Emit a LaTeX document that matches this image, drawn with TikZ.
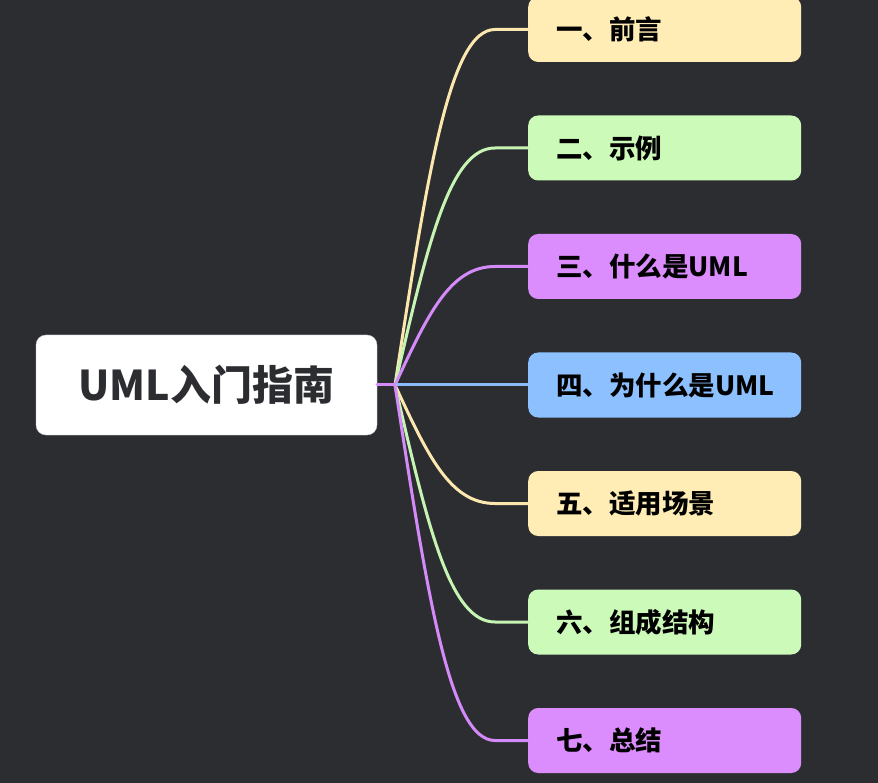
\documentclass[tikz,border=0pt]{standalone}
\usepackage{fontspec}
\newfontfamily\cjk{Noto Sans CJK SC}
\usetikzlibrary{calc}

\definecolor{bgdark}{HTML}{2C2D31}
\definecolor{rootink}{HTML}{2C2D31}
\definecolor{ylw}{HTML}{FFEDB5}
\definecolor{grn}{HTML}{CCFAB9}
\definecolor{prp}{HTML}{DC8DFD}
\definecolor{blu}{HTML}{8DC0FF}
\definecolor{ylwline}{HTML}{FCE8AE}
\definecolor{grnline}{HTML}{C6F4B2}
\definecolor{prpline}{HTML}{D48AF8}
\definecolor{bluline}{HTML}{8BBCFA}

\begin{document}
\begin{tikzpicture}[x=1pt, y=-1pt,
  rootbox/.style={draw=gray!40, fill=white, rounded corners=10pt,
    minimum width=341pt, minimum height=100pt, inner sep=0pt,
    text=rootink, font=\cjk\bfseries\fontsize{41}{41}\selectfont},
  topic/.style={rounded corners=10pt, anchor=west, minimum height=65pt,
    inner xsep=28pt, text width=217pt, align=left,
    font=\cjk\bfseries\fontsize{26.5}{26.5}\selectfont},
  link/.style={line width=3pt, line cap=round}]

  \fill[bgdark] (0,0) rectangle (878,783);
  \useasboundingbox (0,0) rectangle (878,783);

  \node[rootbox] (root) at (206.5,385) {UML入门指南};
  \coordinate (J) at (395,385);

  \node[topic, fill=ylw] (t1) at (528,29.5)  {一、前言};
  \node[topic, fill=grn] (t2) at (528,148)   {二、示例};
  \node[topic, fill=prp] (t3) at (528,266.5) {三、什么是UML};
  \node[topic, fill=blu] (t4) at (528,385)   {四、为什么是UML};
  \node[topic, fill=ylw] (t5) at (528,503.5) {五、适用场景};
  \node[topic, fill=grn] (t6) at (528,622)   {六、组成结构};
  \node[topic, fill=prp] (t7) at (528,740.5) {七、总结};

  \coordinate (e1) at (495,29.5);
  \coordinate (e2) at (495,148);
  \coordinate (e3) at (495,266.5);
  \coordinate (e5) at (495,503.5);
  \coordinate (e6) at (495,622);
  \coordinate (e7) at (495,740.5);

  % branches
  \draw[link, ylwline] (J) .. controls +(33,-215) and +(-45,0) .. (e1) -- (t1.west);
  \draw[link, grnline] (J) .. controls +(33,-143) and +(-45,0) .. (e2) -- (t2.west);
  \draw[link, prpline] (J) .. controls +(33,-71) and +(-45,0) .. (e3) -- (t3.west);
  \draw[link, bluline] (J) -- (t4.west);
  \draw[link, ylwline] (J) .. controls +(33,71) and +(-45,0) .. (e5) -- (t5.west);
  \draw[link, grnline] (J) .. controls +(33,143) and +(-45,0) .. (e6) -- (t6.west);
  \draw[link, prpline] (J) .. controls +(33,215) and +(-45,0) .. (e7) -- (t7.west);
  \draw[link, prpline] (root.east) -- (J);
\end{tikzpicture}
\end{document}
